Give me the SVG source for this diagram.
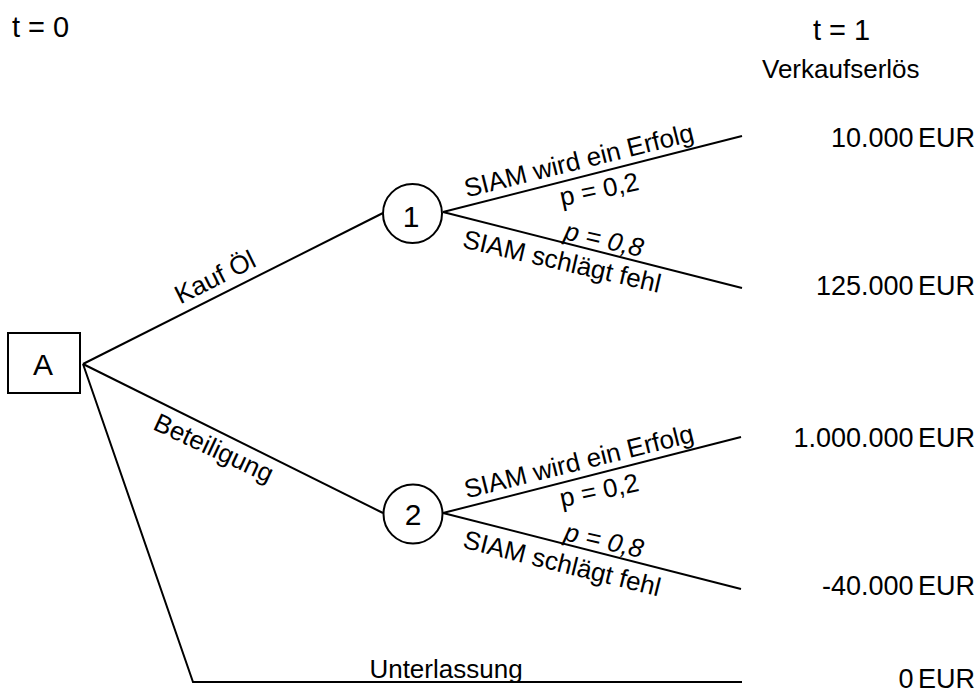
<svg xmlns="http://www.w3.org/2000/svg" width="976" height="693" viewBox="0 0 976 693">
  <style>
    .ln { fill: none; stroke: #000; stroke-width: 2; stroke-linejoin: miter; }
    .nd { fill: #fff; stroke: #000; stroke-width: 2; }
    text { font-family: "Liberation Sans", Arial, sans-serif; fill: #000; }
    .lbl { font-size: 26px; text-anchor: middle; }
    .val { font-size: 27px; text-anchor: end; word-spacing: -3px; }
    .hd { font-size: 29px; }
    .id { font-size: 30px; text-anchor: middle; }
    .it { font-style: italic; }
  </style>
  <rect width="976" height="693" fill="#fff"/>

  <!-- time axis headings -->
  <text class="hd" x="12" y="37">t = 0</text>
  <text class="hd" x="813" y="40">t = 1</text>
  <text x="762" y="78" font-size="26">Verkaufserlös</text>

  <!-- branches -->
  <g id="connectors">
    <path class="ln" d="M83,364 L383,213"/>
    <path class="ln" d="M83,364 L383,513"/>
    <path class="ln" d="M83,364 L193,682 L742,682"/>
    <path class="ln" d="M443,212 L742,136"/>
    <path class="ln" d="M443,212 L742,288"/>
    <path class="ln" d="M443,513 L741,437"/>
    <path class="ln" d="M443,513 L741,589"/>
  </g>

  <!-- branch labels -->
  <g id="labels">
    <text class="lbl" transform="translate(219,285) rotate(-26.6)">Kauf Öl</text>
    <text class="lbl" transform="translate(210,456) rotate(25)">Beteiligung</text>
    <text class="lbl" x="446" y="678">Unterlassung</text>

    <text class="lbl" transform="translate(581,169) rotate(-14)">SIAM wird ein Erfolg</text>
    <text class="lbl" transform="translate(601,198) rotate(-12)">p = 0,2</text>
    <text class="lbl it" transform="translate(602,248) rotate(13)">p = 0,8</text>
    <text class="lbl" transform="translate(560,270) rotate(13)">SIAM schlägt fehl</text>

    <text class="lbl" transform="translate(581,470) rotate(-14)">SIAM wird ein Erfolg</text>
    <text class="lbl" transform="translate(601,499) rotate(-12)">p = 0,2</text>
    <text class="lbl it" transform="translate(602,549) rotate(13)">p = 0,8</text>
    <text class="lbl" transform="translate(560,572) rotate(14)">SIAM schlägt fehl</text>
  </g>

  <!-- decision node -->
  <g id="node-A">
    <rect class="nd" x="8" y="333" width="72" height="60"/>
    <text class="id" x="43" y="375">A</text>
  </g>

  <!-- chance nodes -->
  <g id="node-1">
    <circle class="nd" cx="412.5" cy="213.5" r="29.5"/>
    <text class="id" x="411" y="227">1</text>
  </g>
  <g id="node-2">
    <circle class="nd" cx="413" cy="514" r="29.5"/>
    <text class="id" x="413" y="525">2</text>
  </g>

  <!-- sales revenue per outcome -->
  <g id="values">
    <text class="val" x="975" y="147">10.000 EUR</text>
    <text class="val" x="975" y="295">125.000 EUR</text>
    <text class="val" x="975" y="447">1.000.000 EUR</text>
    <text class="val" x="975" y="595">-40.000 EUR</text>
    <text class="val" x="975" y="688">0 EUR</text>
  </g>
</svg>
